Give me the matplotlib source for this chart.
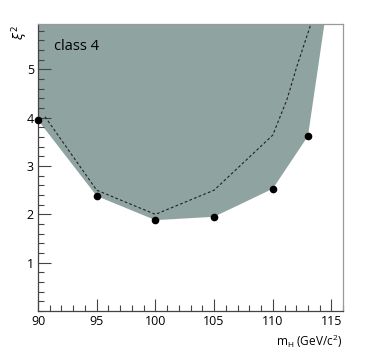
import numpy as np
import matplotlib
matplotlib.use('Agg')
import matplotlib.pyplot as plt
from matplotlib.ticker import MultipleLocator

plt.rcParams['font.family'] = ['Open Sans', 'DejaVu Sans']

# measured points (excluded region boundary)
mH = [90, 95, 100, 105, 110, 113]
xi2 = [3.95, 2.38, 1.88, 1.95, 2.53, 3.62]
# where the shaded region leaves the frame at the top
x_top = 114.4

# expected limit (dashed)
mH_exp = [90.6, 95, 100, 105, 110, 111.2, 112.05, 113.25]
xi2_exp = [4.02, 2.5, 2.0, 2.5, 3.64, 4.37, 5.06, 5.94]

xmin, xmax = 90, 116
ymin, ymax = 0, 5.94

fig = plt.figure(figsize=(3.82, 3.58), dpi=100)
ax = fig.add_axes([0.0995, 0.1313, 0.7989, 0.8017])

xs = mH + [x_top, xmin]
ys = xi2 + [ymax, ymax]
ax.fill(xs, ys, color='#8fa3a0', lw=0, zorder=1)
ax.plot(mH_exp, xi2_exp, ls=(0, (2.5, 2)), color='#222222', lw=0.8, zorder=2)
ax.plot(mH, xi2, 'o', color='black', ms=4.5, zorder=3, clip_on=False)

ax.set_xlim(xmin, xmax)
ax.set_ylim(ymin, ymax)
ax.xaxis.set_major_locator(MultipleLocator(5))
ax.xaxis.set_minor_locator(MultipleLocator(1))
ax.yaxis.set_major_locator(MultipleLocator(1))
ax.yaxis.set_minor_locator(MultipleLocator(0.2))
ax.set_yticks([1, 2, 3, 4, 5])
ax.tick_params(which='both', direction='in', top=False, right=False,
               labelsize=9, color='#444444', width=0.8)
ax.tick_params(which='major', length=9, pad=3)
ax.tick_params(which='minor', length=4.5)

for s in ['left', 'bottom']:
    ax.spines[s].set_color('#444444')
    ax.spines[s].set_linewidth(0.9)
for s in ['top', 'right']:
    ax.spines[s].set_color('#999999')
    ax.spines[s].set_linewidth(0.9)

ax.text(91.4, 5.47, 'class 4', fontsize=10.5, va='center', ha='left')
fig.text(0.895, 0.022, r'm$_{\mathregular{H}}$ (GeV/c$^{\mathregular{2}}$)',
         fontsize=8.5, ha='right', va='bottom')
fig.text(0.052, 0.93, r'$\xi^2$', fontsize=9, rotation=90, ha='center', va='top')

fig.savefig('out.png', dpi=100)
